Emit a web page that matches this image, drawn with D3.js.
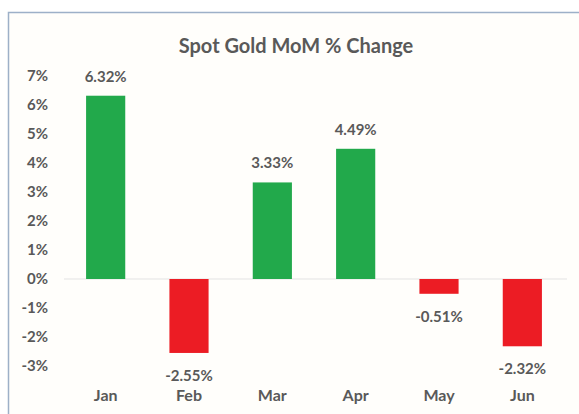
<!DOCTYPE html>
<html>
<head>
<meta charset="utf-8">
<script src="https://cdn.jsdelivr.net/npm/d3@7"></script>
<style>
  body { margin: 0; background: #fff; }
  svg { display: block; font-family: Lato, "Open Sans", sans-serif; }
</style>
</head>
<body>
<svg id="chart"></svg>
<script>
var width = 579,
    height = 414;

var months = ["Jan", "Feb", "Mar", "Apr", "May", "Jun"];
var changes = [6.32, -2.55, 3.33, 4.49, -0.51, -2.32];
var yTicks = [7, 6, 5, 4, 3, 2, 1, 0, -1, -2, -3];

var textColor = "#595959";

var svg = d3.select("#chart").attr("width", width).attr("height", height);

// chart area frame
svg.append("rect")
  .attr("x", 8.5).attr("y", 12.5)
  .attr("width", 580).attr("height", 420)
  .attr("fill", "#fffefb")
  .attr("stroke", "#9db0c8")
  .attr("stroke-width", 1.5);

var x = d3.scaleBand()
  .domain(months)
  .range([64, 564])
  .paddingInner(0.53)
  .paddingOuter(0.265);

var y = d3.scaleLinear()
  .domain([-3, 7])
  .range([366, 76]);

svg.append("text")
  .attr("x", 296).attr("y", 53)
  .attr("text-anchor", "middle")
  .attr("fill", textColor)
  .attr("font-size", 20)
  .attr("font-weight", 700)
  .text("Spot Gold MoM % Change");

// y axis labels, no line
var yAxis = svg.append("g")
  .attr("transform", "translate(48,0)")
  .call(d3.axisLeft(y).tickValues(yTicks).tickSize(0).tickPadding(0)
    .tickFormat(function(d) { return d + "%"; }));
yAxis.select(".domain").remove();
yAxis.selectAll("text")
  .attr("fill", textColor)
  .attr("font-size", 15)
  .attr("font-weight", 700)
  .attr("font-family", "Lato, sans-serif");

// zero line
svg.append("line")
  .attr("x1", 64).attr("x2", 567)
  .attr("y1", y(0)).attr("y2", y(0))
  .attr("stroke", "#e3e3e3")
  .attr("stroke-width", 1);

var data = months.map(function(m, i) { return { month: m, value: changes[i] }; });

svg.append("g").selectAll("rect")
  .data(data)
  .enter().append("rect")
  .attr("x", function(d) { return x(d.month); })
  .attr("width", x.bandwidth())
  .attr("y", function(d) { return y(Math.max(0, d.value)); })
  .attr("height", function(d) { return Math.abs(y(d.value) - y(0)); })
  .attr("fill", function(d) { return d.value >= 0 ? "#22a94b" : "#ec1c24"; });

svg.append("g").selectAll("text")
  .data(data)
  .enter().append("text")
  .attr("x", function(d) { return x(d.month) + x.bandwidth() / 2; })
  .attr("y", function(d) { return d.value >= 0 ? y(d.value) - 14 : y(d.value) + 28; })
  .attr("text-anchor", "middle")
  .attr("fill", textColor)
  .attr("font-size", 15)
  .attr("font-weight", 700)
  .text(function(d) { return d.value.toFixed(2) + "%"; });

// category labels
var xAxis = svg.append("g")
  .attr("transform", "translate(0,390)")
  .call(d3.axisBottom(x).tickSize(0).tickPadding(0));
xAxis.select(".domain").remove();
xAxis.selectAll("text")
  .attr("fill", textColor)
  .attr("font-size", 16)
  .attr("font-weight", 700)
  .attr("font-family", "Lato, sans-serif");
</script>
</body>
</html>
